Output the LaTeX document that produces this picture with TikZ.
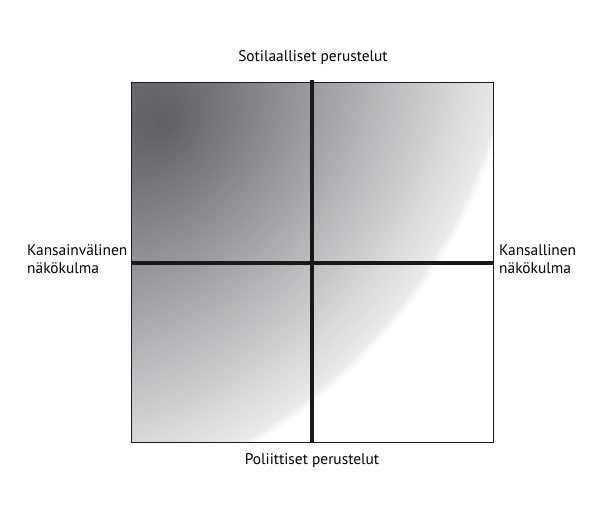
\documentclass[tikz,border=0pt]{standalone}
\usepackage{fontspec}
\setmainfont{PT Sans}
\begin{document}
\begin{tikzpicture}[x=1pt,y=-1pt,
  lbl/.style={inner sep=0pt,font=\fontsize{15.4}{18}\selectfont,align=left},
  axis/.style={line width=3.5pt,draw=black!90},
  frame/.style={line width=1pt,draw=black!90}]
\definecolor{dk}{RGB}{95,96,101}
\definecolor{lt}{RGB}{234,234,236}
\useasboundingbox (0,0) rectangle (602,506);
\coordinate (tl) at (131,82);
\coordinate (br) at (493,442);
\begin{scope}
  \clip (tl) rectangle (br);
  \foreach \i/\w in {102.5/12,102/25,101.5/40,101/58,100.5/78}{
    \fill[lt!\w!white] ({164-1.93*\i},{125-1.55*\i}) circle ({5.45*\i});
  }
  \foreach \i in {100,99,...,1}{
    \fill[lt!\i!dk] ({164-1.93*\i},{125-1.55*\i}) circle ({5.45*\i});
  }
\end{scope}
\draw[frame] (tl) rectangle (br);
\coordinate (vt) at (312,80);
\coordinate (vb) at (312,442);
\coordinate (hl) at (131,263);
\coordinate (hr) at (493,263);
\draw[axis] (vt) -- (vb);
\draw[axis] (hl) -- (hr);
\node[lbl,anchor=center] (top) at (313,58) {Sotilaalliset perustelut};
\node[lbl,anchor=center] (bot) at (312,461) {Poliittiset perustelut};
\node[lbl,anchor=west] (left) at (27,259) {Kansainvälinen\\näkökulma};
\node[lbl,anchor=west] (right) at (499,259) {Kansallinen\\näkökulma};
\end{tikzpicture}
\end{document}
